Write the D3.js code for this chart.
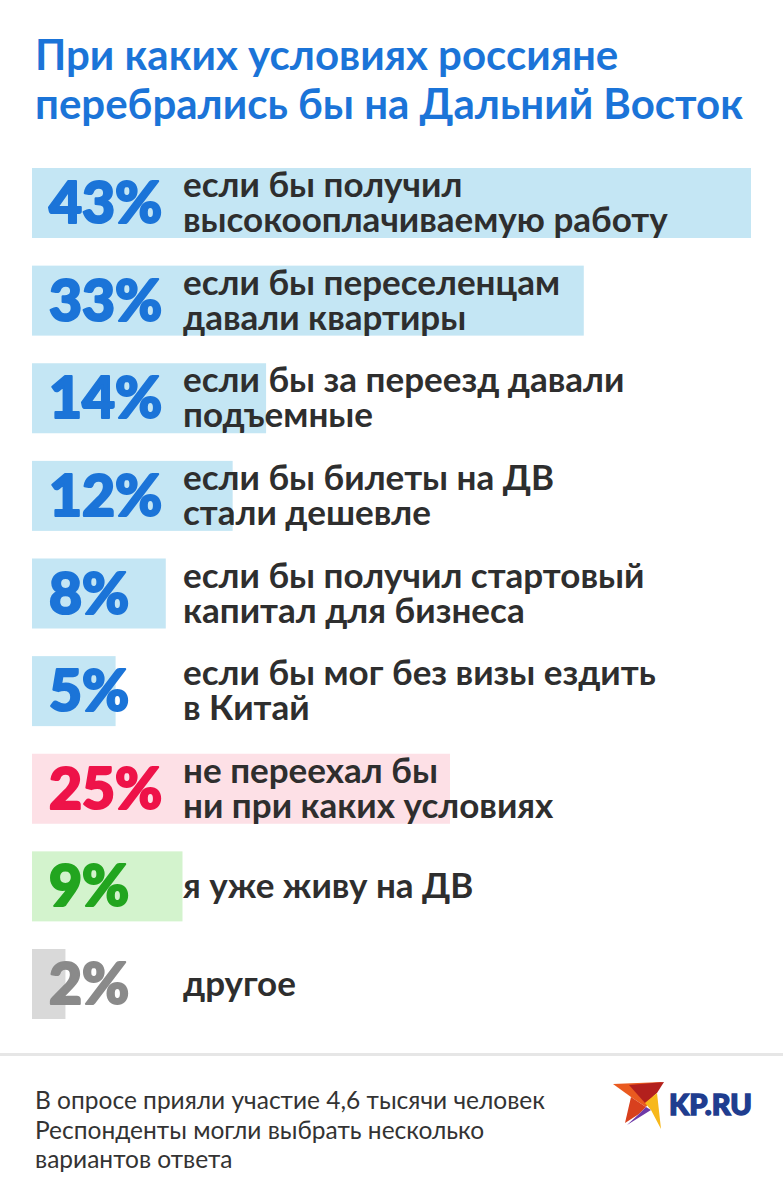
<!DOCTYPE html>
<html><head><meta charset="utf-8">
<script src="https://cdn.jsdelivr.net/npm/d3@7"></script>
<style>html,body{margin:0;padding:0;background:#fff;}svg{display:block;}</style>
</head><body>
<script>
const titleLines = ["При каких условиях россияне", "перебрались бы на Дальний Восток"];
const values = [43, 33, 14, 12, 8, 5, 25, 9, 2];
const labels = [
  ["если бы получил", "высокооплачиваемую работу"],
  ["если бы переселенцам", "давали квартиры"],
  ["если бы за переезд давали", "подъемные"],
  ["если бы билеты на ДВ", "стали дешевле"],
  ["если бы получил стартовый", "капитал для бизнеса"],
  ["если бы мог без визы ездить", "в Китай"],
  ["не переехал бы", "ни при каких условиях"],
  ["я уже живу на ДВ"],
  ["другое"]
];
const groups = ["blue","blue","blue","blue","blue","blue","red","green","gray"];
const footLines = ["В опросе прияли участие 4,6 тысячи человек", "Респонденты могли выбрать несколько", "вариантов ответа"];

const bgColor = {blue:"#c4e6f4", red:"#fde0e6", green:"#d3f3cd", gray:"#d9d9d9"};
const fgColor = {blue:"#1b74d8", red:"#ee1349", green:"#22a51f", gray:"#8a8a8a"};

const W = 783, H = 1200;
const svg = d3.select("body").append("svg").attr("width", W).attr("height", H);

const title = svg.append("text")
  .attr("font-family", "Lato").attr("font-weight", 700).attr("font-size", 42)
  .attr("fill", "#1b74d8");
title.selectAll("tspan").data(titleLines).join("tspan")
  .attr("x", 35).attr("y", (d,i) => 70 + i*49).text(d => d);

const x = d3.scaleLinear().domain([0, 43]).range([0, 719]);
const y = d3.scalePoint().domain(d3.range(values.length)).range([168, 949]);
const barH = 70;

const rows = svg.append("g").selectAll("g").data(values).join("g")
  .attr("transform", (d,i) => `translate(32,${y(i)})`);

rows.append("rect").attr("x", 0).attr("y", 0)
  .attr("width", d => x(d)).attr("height", barH)
  .attr("fill", (d,i) => bgColor[groups[i]]);

rows.append("text").attr("x", 17).attr("y", barH/2 + 20)
  .attr("font-family", "Lato").attr("font-weight", 900).attr("font-size", 57)
  .attr("fill", (d,i) => fgColor[groups[i]])
  .attr("stroke", (d,i) => fgColor[groups[i]]).attr("stroke-width", 2.2)
  .attr("stroke-linejoin", "round")
  .text(d => d + "%");

rows.each(function(d,i){
  const lines = labels[i];
  const n = lines.length;
  const t = d3.select(this).append("text")
    .attr("font-family", "Lato").attr("font-weight", 700).attr("font-size", 35)
    .attr("fill", "#2e2e2e");
  t.selectAll("tspan").data(lines).join("tspan")
    .attr("x", 151)
    .attr("y", (l,j) => barH/2 + 11.5 + (j - (n-1)/2) * 35)
    .text(l => l);
});

svg.append("rect").attr("x", 0).attr("y", 1053).attr("width", W).attr("height", 3).attr("fill", "#e6e6e6");

const foot = svg.append("text")
  .attr("font-family", "Lato").attr("font-weight", 400).attr("font-size", 24.5)
  .attr("fill", "#333");
foot.selectAll("tspan").data(footLines).join("tspan")
  .attr("x", 35).attr("y", (d,i) => 1109 + i*29.5).text(d => d);

// logo
const logo = svg.append("g").attr("transform", "translate(613,1082)");
logo.append("path").attr("d", "M0,2 L49,0 L39,16 L33,25 L18,15 Z").attr("fill", "#ea5a1f");
logo.append("path").attr("d", "M16,3 L51,0 L44,11 L32,21 Z").attr("fill", "#b3201d");
logo.append("path").attr("d", "M32,21 L44,11 L48,47 L38,28 Z").attr("fill", "#f7b81b");
logo.append("path").attr("d", "M18,15 L33,25 L26,32 L12,41 Z").attr("fill", "#d8401e");
logo.append("path").attr("d", "M33,25 L38,28 L14,43 L26,32 Z").attr("fill", "#6e3aa8");
logo.append("text").attr("x", 56).attr("y", 33)
  .attr("font-family", "Lato").attr("font-weight", 900).attr("font-size", 28)
  .attr("fill", "#1f3d8f").attr("stroke", "#1f3d8f").attr("stroke-width", 1.4)
  .attr("textLength", 83).attr("lengthAdjust", "spacingAndGlyphs").text("KP.RU");
</script>
</body></html>
